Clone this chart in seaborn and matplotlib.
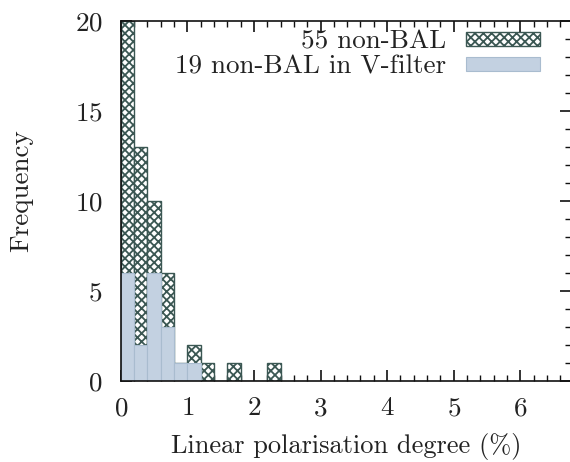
import numpy as np
import pandas as pd
import matplotlib
matplotlib.use("Agg")
import matplotlib.pyplot as plt
import seaborn as sns
from matplotlib.ticker import MultipleLocator

bin_edges = [0.0, 0.2, 0.4, 0.6, 0.8, 1.0, 1.2, 1.4, 1.6, 1.8, 2.0, 2.2, 2.4]
counts_all = [20, 13, 10, 6, 1, 2, 1, 0, 1, 0, 0, 1]
counts_v = [6, 2, 6, 3, 1, 1, 0, 0, 0, 0, 0, 0]
label_all = "55 non-BAL"
label_v = "19 non-BAL in V-filter"

sns.set_style("ticks")
plt.rcParams["font.family"] = ["cmr10", "DejaVu Serif"]
plt.rcParams["axes.formatter.use_mathtext"] = True
plt.rcParams["hatch.linewidth"] = 1.3

centers = [(a + b) / 2 for a, b in zip(bin_edges[:-1], bin_edges[1:])]
df = pd.DataFrame({"pol": centers, "n_all": counts_all, "n_v": counts_v})

fs = 19.5
txt = "#222222"

fig = plt.figure(figsize=(5.7, 4.62), dpi=100)
ax = fig.add_axes([120.7 / 570, 1 - 381 / 462, (571 - 120.7) / 570, (381 - 20.7) / 462])

sns.histplot(data=df, x="pol", weights="n_all", bins=bin_edges, ax=ax,
             color="white", alpha=1, edgecolor="#3b5753", linewidth=1.0,
             hatch="xxxx", label=label_all)
sns.histplot(data=df, x="pol", weights="n_v", bins=bin_edges, ax=ax,
             color="#c3d1e1", alpha=1, edgecolor="#a9bccf", linewidth=0.8,
             label=label_v)

ax.set_xlim(0, (571 - 120.7) / 66.6)
ax.set_ylim(0, 20)
ax.xaxis.set_major_locator(MultipleLocator(1))
ax.xaxis.set_minor_locator(MultipleLocator(0.2))
ax.yaxis.set_major_locator(MultipleLocator(5))
ax.yaxis.set_minor_locator(MultipleLocator(1))
ax.tick_params(which="both", direction="in", top=True, right=True,
               colors="#111111", labelcolor=txt, labelsize=fs)
ax.tick_params(which="major", length=8, width=1.2)
ax.tick_params(which="minor", length=4, width=1.0)
ax.tick_params(axis="y", which="major", pad=13)
ax.tick_params(axis="x", which="major", pad=11)
for s in ax.spines.values():
    s.set_linewidth(1.2)
    s.set_color("#111111")

ax.set_xlabel("Linear polarisation degree (%)", fontsize=19, color=txt, labelpad=9)
ax.set_ylabel("Frequency", fontsize=fs, color=txt)
ax.yaxis.set_label_coords(-0.195, 0.527)

ax.legend(loc="upper right", bbox_to_anchor=(540 / 570, 1 - 30 / 462),
          bbox_transform=fig.transFigure, frameon=False, markerfirst=False,
          fontsize=fs, handlelength=2.75, handleheight=0.43, handletextpad=0.7,
          labelspacing=0.05, borderpad=0, borderaxespad=0, labelcolor=txt)

plt.savefig("out.png", dpi=100)
